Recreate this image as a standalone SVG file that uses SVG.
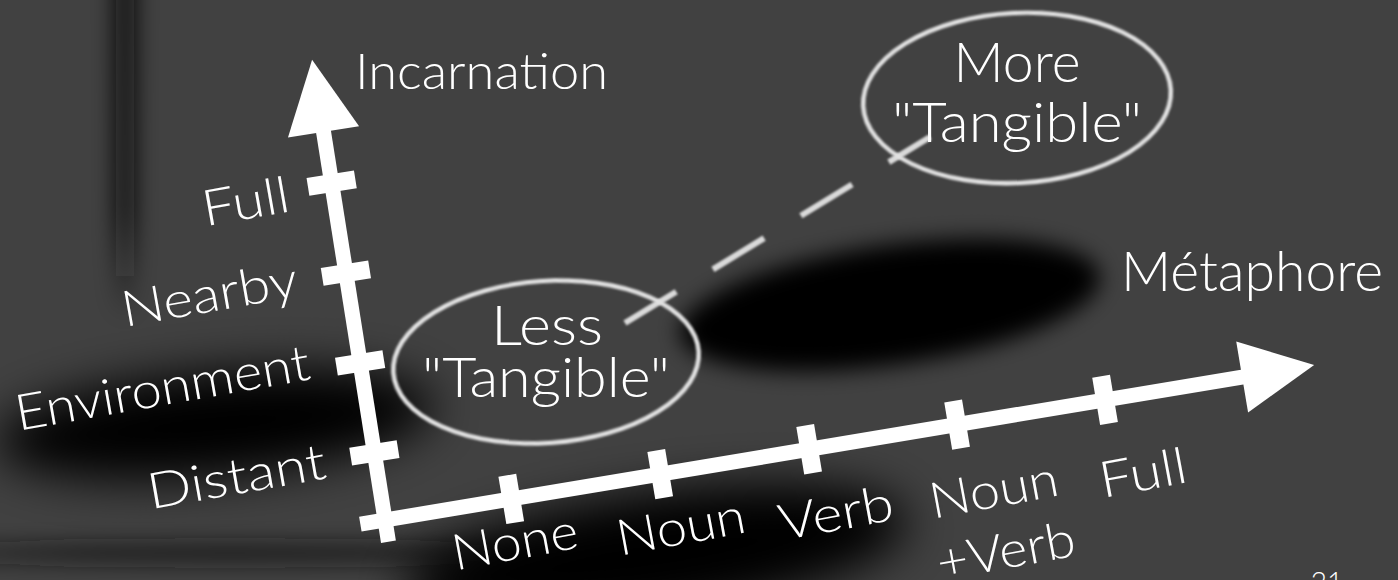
<svg xmlns="http://www.w3.org/2000/svg" width="1398" height="580" viewBox="0 0 1398 580">
  <defs>
    <filter id="softHuge" filterUnits="userSpaceOnUse" x="-300" y="-300" width="2000" height="1200"><feGaussianBlur stdDeviation="24"/></filter>
    <filter id="softBig" filterUnits="userSpaceOnUse" x="-300" y="-300" width="2000" height="1200"><feGaussianBlur stdDeviation="18"/></filter>
    <filter id="softMid" filterUnits="userSpaceOnUse" x="-300" y="-300" width="2000" height="1200"><feGaussianBlur stdDeviation="11"/></filter>
    <filter id="softLine" x="-20%" y="-20%" width="140%" height="140%"><feGaussianBlur stdDeviation="1.3"/></filter>
    <linearGradient id="bandFade" x1="0" y1="0" x2="0" y2="1">
      <stop offset="0" stop-color="#080808" stop-opacity="1"/>
      <stop offset="0.7" stop-color="#0c0c0c" stop-opacity="0.9"/>
      <stop offset="1" stop-color="#151515" stop-opacity="0"/>
    </linearGradient>
  </defs>
  <style>
    .lbl { font-family: "Lato", "Noto Sans", sans-serif; font-weight: 300; fill: #ffffff; }
    .ax { font-size: 50px; }
    .bub { font-size: 56px; text-anchor: middle; }
    .axis { fill: #ffffff; }
    .ring { fill: none; stroke: #e2e2e2; stroke-width: 4.5; filter: url(#softLine); }
    .dash { stroke: #dadada; stroke-width: 6; stroke-dasharray: 60 43; fill: none; filter: url(#softLine); }
  </style>

  <!-- background -->
  <g id="background">
    <rect x="0" y="0" width="1398" height="580" fill="#414141"/>
    <rect x="115" y="-40" width="20" height="360" fill="url(#bandFade)" filter="url(#softMid)"/>
    <ellipse cx="215" cy="424" rx="220" ry="52" transform="rotate(-5 215 424)" fill="#000000" filter="url(#softHuge)"/>
    <ellipse cx="230" cy="553" rx="300" ry="8" fill="#161616" filter="url(#softMid)"/>
    <ellipse cx="890" cy="305" rx="212" ry="60" transform="rotate(-8 890 305)" fill="#040404" filter="url(#softMid)"/>
    <ellipse cx="655" cy="555" rx="255" ry="62" transform="rotate(-8 655 555)" fill="#020202" filter="url(#softHuge)"/>
  </g>

  <!-- connectors / axes -->
  <g id="connectors">
    <g id="axis-incarnation" transform="translate(385,520) rotate(-9)">
      <rect class="axis" x="-7.5" y="-400" width="15" height="422"/>
      <polygon class="axis" points="0,-466 -36,-393 36,-393"/>
      <rect class="axis" x="-24" y="-77" width="48" height="18"/>
      <rect class="axis" x="-24" y="-168" width="48" height="18"/>
      <rect class="axis" x="-24" y="-259" width="48" height="18"/>
      <rect class="axis" x="-24" y="-350" width="48" height="18"/>
    </g>
    <g id="axis-metaphore" transform="translate(385,520) rotate(-9.47)">
      <rect class="axis" x="-25" y="-7.5" width="897" height="15"/>
      <polygon class="axis" points="942,0 869,-36 869,36"/>
      <rect class="axis" x="119" y="-24" width="18" height="48"/>
      <rect class="axis" x="270" y="-24" width="18" height="48"/>
      <rect class="axis" x="421" y="-24" width="18" height="48"/>
      <rect class="axis" x="571" y="-24" width="18" height="48"/>
      <rect class="axis" x="721" y="-24" width="18" height="48"/>
    </g>
    <line id="link-less-more" class="dash" x1="625" y1="323" x2="930" y2="137"/>
  </g>

  <!-- axis titles -->
  <g id="title-incarnation">
    <text class="lbl ax" x="355" y="89" textLength="253" lengthAdjust="spacingAndGlyphs">Incarnation</text>
  </g>
  <g id="title-metaphore">
    <text class="lbl" font-size="56" x="1121" y="291" textLength="262" lengthAdjust="spacingAndGlyphs">Métaphore</text>
  </g>

  <!-- vertical axis labels -->
  <g id="v-full"><text class="lbl ax" text-anchor="end" transform="translate(292,211) rotate(-10)" textLength="88" lengthAdjust="spacingAndGlyphs">Full</text></g>
  <g id="v-nearby"><text class="lbl ax" text-anchor="end" transform="translate(300,296) rotate(-10)" textLength="178" lengthAdjust="spacingAndGlyphs">Nearby</text></g>
  <g id="v-environment"><text class="lbl ax" text-anchor="end" transform="translate(312,379) rotate(-10)" textLength="298" lengthAdjust="spacingAndGlyphs">Environment</text></g>
  <g id="v-distant"><text class="lbl ax" text-anchor="end" transform="translate(328,478) rotate(-10)" textLength="180" lengthAdjust="spacingAndGlyphs">Distant</text></g>

  <!-- horizontal axis labels -->
  <g id="h-none"><text class="lbl ax" text-anchor="middle" transform="translate(518,559) rotate(-10.5)" textLength="127" lengthAdjust="spacingAndGlyphs">None</text></g>
  <g id="h-noun"><text class="lbl ax" text-anchor="middle" transform="translate(684,544) rotate(-10.5)" textLength="130" lengthAdjust="spacingAndGlyphs">Noun</text></g>
  <g id="h-verb"><text class="lbl ax" text-anchor="middle" transform="translate(839,530) rotate(-10.5)" textLength="116" lengthAdjust="spacingAndGlyphs">Verb</text></g>
  <g id="h-nounverb">
    <text class="lbl ax" text-anchor="middle" transform="translate(997,507) rotate(-10.5)" textLength="130" lengthAdjust="spacingAndGlyphs">Noun</text>
    <text class="lbl ax" text-anchor="middle" transform="translate(1009,568) rotate(-10.5)" textLength="140" lengthAdjust="spacingAndGlyphs">+Verb</text>
  </g>
  <g id="h-full"><text class="lbl ax" text-anchor="middle" transform="translate(1146,490) rotate(-10.5)" textLength="88" lengthAdjust="spacingAndGlyphs">Full</text></g>

  <!-- bubbles -->
  <g id="node-less">
    <ellipse class="ring" cx="546" cy="362" rx="153" ry="81" transform="rotate(-4 546 362)"/>
    <text class="lbl bub" x="547" y="345" textLength="112" lengthAdjust="spacingAndGlyphs">Less</text>
    <text class="lbl bub" x="546" y="397" textLength="248" lengthAdjust="spacingAndGlyphs">"Tangible"</text>
  </g>
  <g id="node-more">
    <ellipse class="ring" cx="1017" cy="98" rx="154" ry="85" transform="rotate(-3 1017 98)"/>
    <text class="lbl bub" x="1017" y="82" textLength="127" lengthAdjust="spacingAndGlyphs">More</text>
    <text class="lbl bub" x="1017" y="142" textLength="250" lengthAdjust="spacingAndGlyphs">"Tangible"</text>
  </g>

  <g id="page-number">
    <text class="lbl" font-size="28" fill="#e6e6e6" text-anchor="middle" x="1327" y="592">21</text>
  </g>
</svg>
